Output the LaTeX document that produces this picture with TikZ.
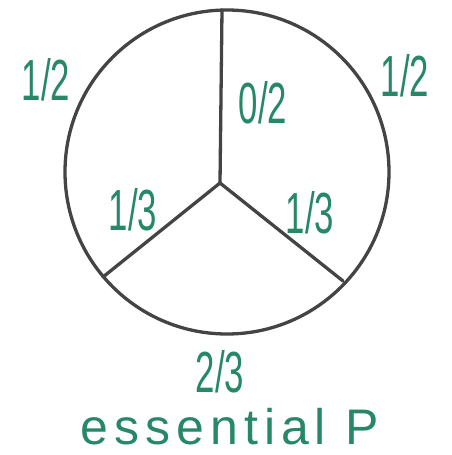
\documentclass[tikz,border=0pt]{standalone}
\usepackage{fontspec}
\setmainfont{Liberation Sans}
\definecolor{ink}{RGB}{38,136,104}
\definecolor{pen}{RGB}{68,68,68}
\begin{document}
\begin{tikzpicture}[x=1pt,y=-1pt,
  frac/.style={text=ink,inner sep=0pt,font=\fontsize{58}{60}\selectfont},
  caption/.style={text=ink,inner sep=0pt,font=\fontsize{50}{54}\selectfont\addfontfeature{LetterSpace=12}},
  stroke/.style={draw=pen,line width=3.3pt,line cap=round,line join=round}]
\useasboundingbox (0,0) rectangle (452,455);
\coordinate (c) at (227,172);
\coordinate (hub) at (220,183);
\coordinate (top) at (222,10);
\coordinate (ll) at (103,277);
\coordinate (lr) at (343,281);
\draw[stroke] (c) circle[radius=162pt];
\draw[stroke] (hub) -- (top);
\draw[stroke] (hub) -- (ll);
\draw[stroke] (hub) -- (lr);
\node[frac] (a) at (46,80) {\scalebox{0.6}[1]{1/2}};
\node[frac] (b) at (405,76) {\scalebox{0.6}[1]{1/2}};
\node[frac] (d) at (263,103) {\scalebox{0.6}[1]{0/2}};
\node[frac] (e) at (133,210) {\scalebox{0.6}[1]{1/3}};
\node[frac] (f) at (310,213) {\scalebox{0.6}[1]{1/3}};
\node[frac] (g) at (220,372) {\scalebox{0.6}[1]{2/3}};
\node[caption] (h) at (230,427) {essential P};
\end{tikzpicture}
\end{document}
